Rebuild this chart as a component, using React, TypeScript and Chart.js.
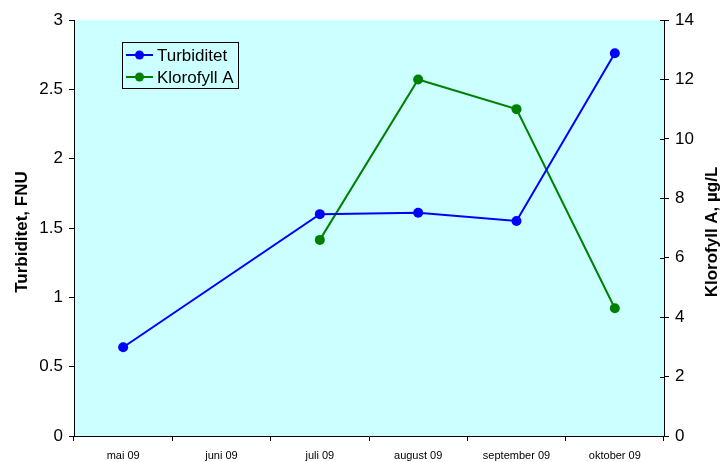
import React, { useEffect, useRef } from "react";
import { Chart, registerables } from "chart.js";

Chart.register(...registerables);

const categories = ["mai 09", "juni 09", "juli 09", "august 09", "september 09", "oktober 09"];
const turbiditet = [0.64, null, 1.6, 1.61, 1.55, 2.76];
const klorofyll = [null, null, 6.6, 12.0, 11.0, 4.3];
const leftTitle = "Turbiditet, FNU";
const rightTitle = "Klorofyll A, µg/L";
const seriesNames = ["Turbiditet", "Klorofyll A"];

const PLOT_LEFT = 74;
const PLOT_RIGHT = 664;
const PLOT_TOP = 20;
const PLOT_BOTTOM = 436;
const W = 722;
const H = 462;
const FAMILY = "Arial, 'Liberation Sans', sans-serif";

const decorPlugin = {
  id: "decor",
  beforeDraw(chart: any) {
    const { ctx, chartArea } = chart;
    ctx.save();
    ctx.fillStyle = "#ccffff";
    ctx.fillRect(chartArea.left, chartArea.top, chartArea.right - chartArea.left, chartArea.bottom - chartArea.top);
    ctx.restore();
  },
  afterDraw(chart: any) {
    const { ctx, chartArea } = chart;
    ctx.save();
    const y2 = chart.scales.y2;
    ctx.strokeStyle = "#000";
    ctx.lineWidth = 1;
    y2.ticks.forEach((t: any, i: number) => {
      const py = Math.round(y2.getPixelForTick(i)) + 0.5;
      ctx.beginPath();
      ctx.moveTo(chartArea.right - 4, py);
      ctx.lineTo(chartArea.right, py);
      ctx.stroke();
    });
    ctx.fillStyle = "#000";
    ctx.font = "bold 17px " + FAMILY;
    ctx.textAlign = "center";
    ctx.textBaseline = "alphabetic";
    const cy = 232;
    ctx.save();
    ctx.translate(27, cy);
    ctx.rotate(-Math.PI / 2);
    ctx.fillText(leftTitle, 0, 0);
    ctx.restore();
    ctx.save();
    ctx.translate(717, cy);
    ctx.rotate(-Math.PI / 2);
    ctx.fillText(rightTitle, 0, 0);
    ctx.restore();
    const lx = 122, ly = 42, lw = 116, lh = 46;
    ctx.fillStyle = "#ccffff";
    ctx.fillRect(lx, ly, lw, lh);
    ctx.strokeStyle = "#000";
    ctx.lineWidth = 1;
    ctx.strokeRect(lx + 0.5, ly + 0.5, lw, lh);
    const colors = ["#0000ff", "#008000"];
    seriesNames.forEach((name, i) => {
      const ry = ly + 13 + i * 22;
      ctx.strokeStyle = colors[i];
      ctx.lineWidth = 2;
      ctx.beginPath();
      ctx.moveTo(lx + 4, ry);
      ctx.lineTo(lx + 31, ry);
      ctx.stroke();
      ctx.fillStyle = colors[i];
      ctx.beginPath();
      ctx.arc(lx + 17.5, ry, 4.5, 0, Math.PI * 2);
      ctx.fill();
      ctx.fillStyle = "#000";
      ctx.font = "17px " + FAMILY;
      ctx.textAlign = "left";
      ctx.textBaseline = "middle";
      ctx.fillText(name, lx + 35, ry + 1);
    });
    ctx.restore();
  },
};

export default function App() {
  const ref = useRef<HTMLCanvasElement | null>(null);
  useEffect(() => {
    if (!ref.current) return;
    const font = { family: FAMILY, size: 17 };
    const fmt = (v: any) => String(Number(v));
    const chart = new Chart(ref.current, {
      type: "line",
      data: {
        labels: categories,
        datasets: [
          {
            label: seriesNames[0],
            data: turbiditet,
            borderColor: "#0000ff",
            backgroundColor: "#0000ff",
            pointBackgroundColor: "#0000ff",
            pointBorderColor: "#0000ff",
            borderWidth: 2,
            pointRadius: 5,
            pointBorderWidth: 0,
            spanGaps: true,
            yAxisID: "y",
            tension: 0,
          },
          {
            label: seriesNames[1],
            data: klorofyll,
            borderColor: "#008000",
            backgroundColor: "#008000",
            pointBackgroundColor: "#008000",
            pointBorderColor: "#008000",
            borderWidth: 2,
            pointRadius: 5,
            pointBorderWidth: 0,
            spanGaps: true,
            yAxisID: "y2",
            tension: 0,
          },
        ],
      },
      options: {
        animation: false,
        responsive: false,
        maintainAspectRatio: false,
        layout: { padding: { top: PLOT_TOP, left: 0, right: 0, bottom: 0 } },
        plugins: { legend: { display: false }, tooltip: { enabled: false }, title: { display: false } },
        scales: {
          x: {
            type: "category",
            offset: true,
            grid: { display: true, drawOnChartArea: false, offset: true, tickLength: 5, color: "#000" },
            border: { display: true, color: "#000", width: 1 },
            ticks: { color: "#000", font: { family: FAMILY, size: 11 }, maxRotation: 0, autoSkip: false, padding: 8 },
            afterFit(scale: any) {
              scale.height = H - PLOT_BOTTOM;
            },
          },
          y: {
            position: "left",
            min: 0,
            max: 3,
            ticks: { stepSize: 0.5, color: "#000", font, padding: 6, callback: fmt },
            grid: { display: true, drawOnChartArea: false, tickLength: 5, color: "#000" },
            border: { display: true, color: "#000", width: 1 },
            afterFit(scale: any) {
              scale.width = PLOT_LEFT;
            },
          },
          y2: {
            position: "right",
            min: 0,
            max: 14,
            ticks: { stepSize: 2, color: "#000", font, padding: 6, callback: fmt },
            grid: { display: true, drawOnChartArea: false, tickLength: 5, color: "#000" },
            border: { display: true, color: "#000", width: 1 },
            afterFit(scale: any) {
              scale.width = W - PLOT_RIGHT;
            },
          },
        },
      },
      plugins: [decorPlugin],
    } as any);
    return () => chart.destroy();
  }, []);
  return (
    <div style={{ position: "fixed", left: 0, top: 0, width: W, height: H, background: "#fff" }}>
      <canvas ref={ref} width={W} height={H} style={{ width: W, height: H, display: "block" }} />
    </div>
  );
}
